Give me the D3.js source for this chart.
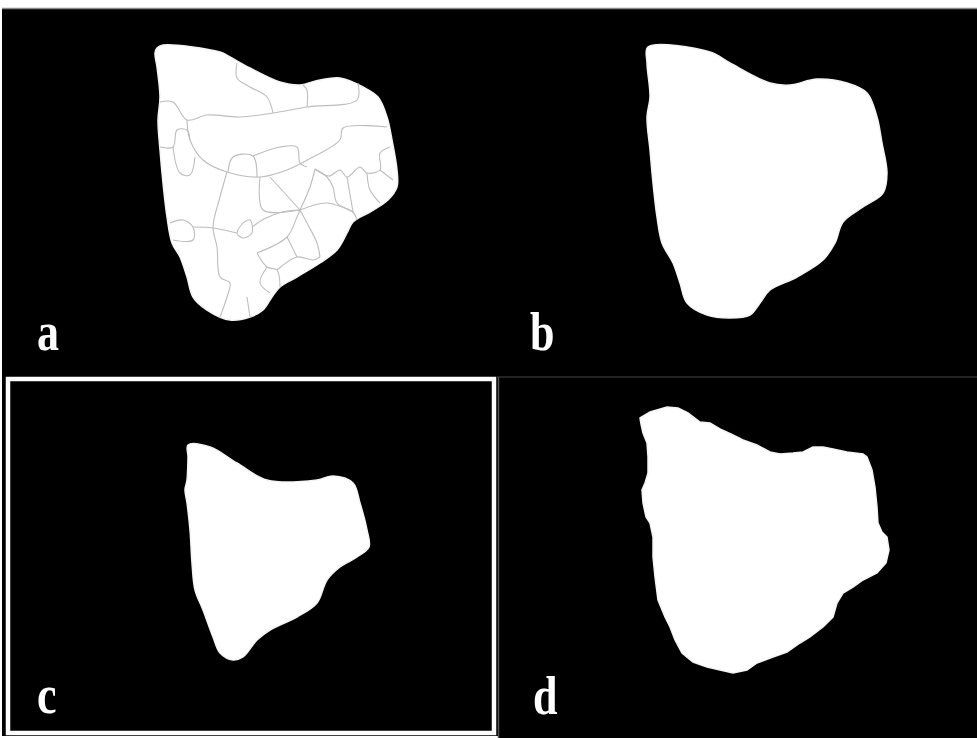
<!DOCTYPE html>
<html>
<head>
<meta charset="utf-8">
<script src="https://cdn.jsdelivr.net/npm/d3@7"></script>
<style>
  body { margin: 0; background: #fff; }
  svg { display: block; }
</style>
</head>
<body>
<script>
var width = 977, height = 738;

// panel letters
var panelLabels = ["a", "b", "c", "d"];

// outlines (pixels inside each panel)
var outlineA = [[155,39],[161,36],[218,43],[228,48],[248,59],[278,73],[298,76],[318,71],[338,69],
  [361,78],[376,88],[385,108],[390,131],[395,161],[395,178],[386,191],[368,203],[351,213],[345,224],
  [335,241],[318,254],[295,268],[278,278],[270,288],[261,301],[248,308],[228,311],[205,301],[191,288],
  [185,268],[178,248],[170,234],[165,208],[161,174],[158,141],[156,111],[158,88],[155,58],[153,44]];

var outlineB = [[151,38],[213,43],[233,54],[273,74],[293,76],[320,70],[350,74],[370,84],[380,108],
  [385,134],[390,164],[386,184],[366,198],[346,213],[338,234],[326,251],[300,268],[273,281],[263,294],
  [253,306],[233,309],[210,306],[190,294],[183,274],[176,254],[165,234],[160,208],[156,174],[153,141],
  [150,108],[153,88],[150,54]];

var outlineC = [[186,69],[208,71],[235,87],[265,104],[315,104],[331,100],[351,107],[358,127],[365,154],
  [367,171],[355,181],[338,191],[325,204],[315,227],[295,241],[268,254],[255,264],[241,281],[231,284],
  [218,277],[211,261],[201,234],[193,214],[190,187],[188,154],[185,127],[183,114],[185,104],[186,81]];

var outlineD = [[140,41],[150,35],[167,30],[178,31],[188,36],[200,45],[210,46],[220,52],[233,58],[243,63],
  [257,68],[270,75],[280,77],[293,76],[303,75],[313,70],[323,70],[333,72],[347,75],[363,77],[367,80],
  [372,93],[375,110],[377,130],[378,146],[382,155],[387,160],[389,173],[386,186],[377,196],[363,203],
  [353,210],[343,216],[337,226],[333,240],[323,250],[310,260],[300,266],[287,275],[273,280],[257,286],
  [247,293],[233,296],[220,293],[207,290],[193,285],[182,276],[175,263],[170,250],[165,240],[158,223],
  [155,200],[153,180],[153,160],[150,146],[146,140],[143,126],[142,113],[145,106],[148,96],[148,80],
  [147,66],[143,56],[141,47]];

// cell boundaries inside panel a
var cellLines = [
  [[158,93],[171,93],[185,111],[205,106],[238,108],[271,104],[305,98],[355,91],[356,74]],
  [[305,98],[305,81],[301,76]],
  [[235,54],[235,69],[248,78],[265,88],[271,104]],
  [[185,111],[188,131],[201,151],[225,163],[258,168],[285,161],[311,148],[338,131],[341,119],[385,118]],
  [[158,138],[171,138],[175,121],[185,121],[188,131]],
  [[171,138],[178,164],[188,166],[193,148]],
  [[226,163],[231,148],[251,147],[255,168]],
  [[251,147],[278,138],[295,138],[298,154],[305,158]],
  [[225,163],[218,188],[211,218],[215,238],[218,268],[228,274],[225,288],[218,308]],
  [[168,214],[181,211],[191,218],[191,231],[171,231]],
  [[191,218],[211,219],[235,224]],
  [[258,168],[261,201],[298,201]],
  [[250,218],[262,210],[280,203],[298,201]],
  [[268,168],[298,201]],
  [[298,201],[308,178],[313,160]],
  [[298,201],[325,194],[351,203]],
  [[298,201],[295,208],[285,228],[255,244]],
  [[298,201],[305,214],[315,234],[318,248]],
  [[255,244],[265,258],[275,261],[278,278]],
  [[265,258],[258,274],[268,284]],
  [[275,261],[295,248],[311,251],[318,248]],
  [[285,228],[295,248]],
  [[245,288],[248,308]],
  [[313,160],[325,168],[331,178],[335,194],[351,203],[355,211]],
  [[313,160],[327,167],[338,161],[345,168],[358,158],[365,164],[378,161],[378,144],[388,138]],
  [[365,164],[368,181],[378,194]],
  [[378,161],[391,171]],
  [[345,168],[351,203]],
  [[241,214],[248,211],[250,224],[241,229],[235,224],[241,214]]
];

// layout of the four panels
var panels = [
  {key: "a", x: 2,   y: 9,   w: 495, h: 367, outline: outlineA, curve: d3.curveCatmullRomClosed},
  {key: "b", x: 497, y: 9,   w: 480, h: 367, outline: outlineB, curve: d3.curveCatmullRomClosed},
  {key: "c", x: 2,   y: 376, w: 495, h: 362, outline: outlineC, curve: d3.curveCatmullRomClosed},
  {key: "d", x: 500, y: 377, w: 477, h: 361, outline: outlineD, curve: d3.curveLinearClosed}
];

var svg = d3.select("body").append("svg")
  .attr("width", width)
  .attr("height", height);

svg.append("rect").attr("width", width).attr("height", height).attr("fill", "#fff");

// black backgrounds
svg.append("rect")
  .attr("x", 2).attr("y", 9).attr("width", width - 2).attr("height", height - 9)
  .attr("fill", "#000");
svg.append("line")
  .attr("x1", 2).attr("x2", width).attr("y1", 8.5).attr("y2", 8.5)
  .style("stroke", "#8a8a8a").style("stroke-width", "1.5px");
// thin white gap under panel c
svg.append("rect").attr("x", 0).attr("y", 736).attr("width", 498).attr("height", 2).attr("fill", "#fff");
// divider left of panel d
svg.append("line")
  .attr("x1", 498.5).attr("x2", 498.5).attr("y1", 377).attr("y2", height)
  .style("stroke", "#555").style("stroke-width", "1.5px");
svg.append("line")
  .attr("x1", 497).attr("x2", width).attr("y1", 377).attr("y2", 377)
  .style("stroke", "#444").style("stroke-width", "1px");

panels.forEach(function(p, i) {
  var xScale = d3.scaleLinear().domain([0, p.w]).range([p.x, p.x + p.w]);
  var yScale = d3.scaleLinear().domain([0, p.h]).range([p.y, p.y + p.h]);

  var g = svg.append("g").attr("class", "panel-" + p.key);

  var shape = d3.line()
    .x(function(d) { return xScale(d[0]); })
    .y(function(d) { return yScale(d[1]); })
    .curve(p.curve);

  g.append("path")
    .datum(p.outline)
    .attr("d", shape)
    .attr("fill", "#fff")
    .style("stroke", "#f4f4f4")
    .style("stroke-width", "1.5px");

  if (p.key === "a") {
    var cellLine = d3.line()
      .x(function(d) { return xScale(d[0]); })
      .y(function(d) { return yScale(d[1]); })
      .curve(d3.curveCatmullRom);
    g.selectAll("path.cell")
      .data(cellLines)
      .enter()
      .append("path")
        .attr("class", "cell")
        .attr("d", cellLine)
        .attr("fill", "none")
        .style("stroke", "#bdbdbd")
        .style("stroke-width", "1.1px");
  }

  // letter, slightly condensed like the original scan
  var lx = xScale(p.key === "a" || p.key === "c" ? 35 : 33);
  var ly = yScale(p.key === "c" || p.key === "d" ? 337 : 341);
  g.append("text")
    .text(panelLabels[i])
    .attr("transform", "translate(" + lx + "," + ly + ") scale(0.88,1.08)")
    .attr("font-family", "'Liberation Serif', 'Times New Roman', serif")
    .attr("font-weight", "bold")
    .attr("font-size", "50px")
    .attr("fill", "#fff");
});

// white frame around panel c
svg.append("rect")
  .attr("x", 8).attr("y", 379).attr("width", 486).attr("height", 354)
  .attr("fill", "none")
  .style("stroke", "#fff")
  .style("stroke-width", "4.5px");
</script>
</body>
</html>
